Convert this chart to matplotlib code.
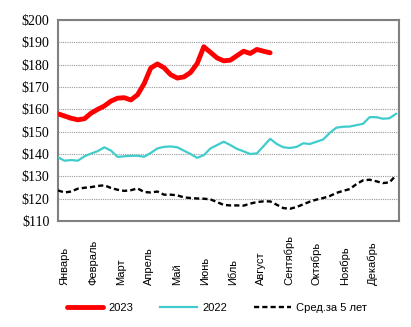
import numpy as np
import matplotlib
matplotlib.use("Agg")
import matplotlib.pyplot as plt

# недельные цены, $
months = ["Январь", "Февраль", "Март", "Апрель", "Май", "Июнь",
          "Ибль", "Август", "Сентябрь", "Октябрь", "Ноябрь", "Декабрь"]

price_2023 = [158, 157, 156, 155.3, 155.8, 158.3, 160, 161.5, 163.7, 165, 165.2,
              164.2, 166.5, 171.5, 178.5, 180.3, 178.6, 175.5, 174, 174.5, 176.5,
              180.5, 188, 185.5, 183, 181.7, 182, 184, 186, 185, 186.8, 186, 185.3]

price_2022 = [138.5, 137, 137.3, 137, 139, 140.2, 141.3, 143, 141.5, 138.7, 139,
              139.2, 139.2, 138.8, 140.5, 142.5, 143.2, 143.4, 143, 141.5, 140,
              138.3, 139.5, 142.5, 144, 145.5, 144, 142.3, 141.2, 140, 140.3,
              143.5, 146.8, 144.5, 143, 142.7, 143.2, 144.8, 144.5, 145.5, 146.5,
              149.5, 151.8, 152.2, 152.3, 152.9, 153.5, 156.5, 156.5, 155.8, 156, 158]

avg_5y = [123.7, 122.8, 123.2, 124.5, 124.9, 125.2, 125.7, 126, 124.8, 124, 123.5,
          123.8, 124.6, 123, 122.8, 123.2, 121.8, 121.8, 121.5, 120.6, 120.3,
          120.1, 120, 119.7, 118.5, 117.2, 117, 117, 116.9, 117.8, 118.5, 118.8,
          118.8, 117.3, 115.8, 115.5, 116.3, 117.5, 118.7, 119.6, 120.3, 121.2,
          122.6, 123.5, 124.3, 126.5, 128.2, 128.5, 127.8, 127, 127.3, 130.5]

fig = plt.figure(figsize=(4.11, 3.27), dpi=100)
ax = fig.add_axes([0.141, 0.324, 0.830, 0.615])

ax.plot(range(len(avg_5y)), avg_5y, color="black", lw=1.7, ls=(0, (2.2, 1.3)),
        label="Сред.за 5 лет", zorder=3)
ax.plot(range(len(price_2022)), price_2022, color="#40CCCC", lw=1.6,
        label="2022", zorder=4)
ax.plot(range(len(price_2023)), price_2023, color="#FF0000", lw=3.5,
        label="2023", zorder=5, solid_capstyle="round")

ax.set_xlim(0, 51.45)
ax.set_ylim(110, 200)
ax.set_yticks(range(110, 201, 10))
ax.set_yticklabels([f"${v}" for v in range(110, 201, 10)],
                   fontfamily="Liberation Serif", fontsize=10)
ax.yaxis.grid(True, color="#9a9a9a", ls=(0, (1, 1)), lw=0.8)
ax.set_axisbelow(True)

# подписи месяцев прижаты к нижнему краю
ax.set_xticks(np.arange(12) * 4.22 + 1.05)
ax.set_xticklabels(months, rotation=90, fontfamily="Liberation Sans", fontsize=8)
ax.tick_params(axis="both", length=0)
ax.tick_params(axis="y", pad=6)
ax.tick_params(axis="x", pad=46)
for lbl in ax.get_xticklabels():
    lbl.set_va("bottom")

for sp in ax.spines.values():
    sp.set_color("#808080")
    sp.set_linewidth(1.5)

handles, labels = ax.get_legend_handles_labels()
order = [2, 1, 0]
fig.legend([handles[i] for i in order], [labels[i] for i in order],
           loc="center", bbox_to_anchor=(0.528, 0.058), ncol=3, frameon=False,
           prop={"family": "Liberation Sans", "size": 8},
           handlelength=3.3, handletextpad=0.5, columnspacing=2.4)

fig.savefig("out.png", dpi=100)
